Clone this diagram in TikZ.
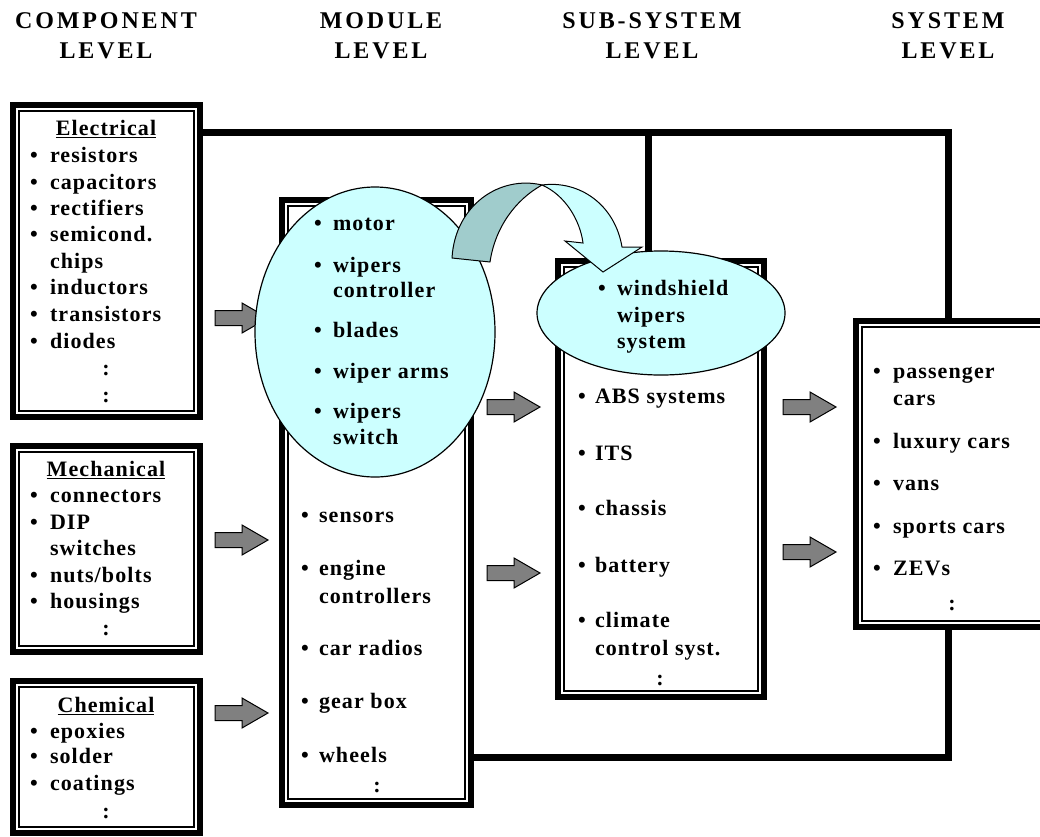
\documentclass[tikz,border=0pt]{standalone}
\usepackage{fontspec}
\setmainfont{Liberation Serif}[LetterSpace=5]
\newfontfamily\headfont{Liberation Serif}[LetterSpace=12]
\usetikzlibrary{shapes.geometric}

\definecolor{paleCyan}{HTML}{CCFFFF}
\definecolor{ribbonTeal}{HTML}{A0CCCC}
\definecolor{arrowGray}{HTML}{808080}

\pgfdeclarelayer{linklayer}
\pgfsetlayers{linklayer,main}

% frame with a heavy outer rule and a thin inner rule
\newcommand\levelframe[5]{%
  \node[inner sep=0pt, outer sep=0pt, minimum width={#4-#2}, minimum height={#5-#3}] (#1) at ({(#2+#4)/2},{(#3+#5)/2}) {};
  \draw[line width=6pt, fill=white] (#2+3,#3+3) rectangle (#4-3,#5-3);
  \draw[line width=1.2pt] (#2+9,#3+9) rectangle (#4-9,#5-9);
}
% bulleted list entry: name, bullet x, text x, y, text
\newcommand\itm[5]{%
  \node[dotmark] (#1b) at (#2,#4) {•};
  \node[txt] (#1) at (#3,#4) {#5};
}
% continuation line of an entry
\newcommand\cont[4]{\node[txt] (#1) at (#2,#3) {#4};}
% vertical ellipsis mark
\newcommand\colonmark[3]{\node[dotmark] (#1) at (#2,#3) {:};}

\begin{document}
\begin{tikzpicture}[x=1pt,y=-1pt,
  body/.style={inner sep=0pt, outer sep=0pt, text height=16pt, text depth=5pt,
    font=\fontsize{22}{26}\selectfont\bfseries},
  txt/.style={body, anchor=west},
  dotmark/.style={body, anchor=center},
  ttl/.style={inner sep=0pt, anchor=base, font=\headfont\fontsize{24}{28}\selectfont\bfseries},
  link/.style={line width=7pt, line join=miter},
  bubble/.style={ellipse, draw, line width=1.2pt, fill=paleCyan, inner sep=0pt},
  blockarrow/.pic={\draw[line width=1pt, fill=arrowGray, line join=miter]
    (0,-7.5) -- (27,-7.5) -- (27,-15) -- (53,0) -- (27,15) -- (27,7.5) -- (0,7.5) -- cycle;}
]
\useasboundingbox (0,0) rectangle (1040,836);
\clip (0,0) rectangle (1040,836);

% level headings
\node[ttl] (h1a) at (106,28) {COMPONENT};
\node[ttl] (h1b) at (106,58) {LEVEL};
\node[ttl] (h2a) at (381,28) {MODULE};
\node[ttl] (h2b) at (381,58) {LEVEL};
\node[ttl] (h3a) at (652,28) {SUB-SYSTEM};
\node[ttl] (h3b) at (652,58) {LEVEL};
\node[ttl] (h4a) at (948,28) {SYSTEM};
\node[ttl] (h4b) at (948,58) {LEVEL};

% bends of the heavy links
\coordinate (topRun) at (948,132);
\coordinate (subTap) at (648,132);
\coordinate (botRun) at (948,757);

% frames
\levelframe{elec}{10}{102}{203}{420}
\levelframe{mech}{10}{443}{203}{655}
\levelframe{chem}{10}{678}{203}{836}
\levelframe{mod}{279}{197}{474}{808}
\levelframe{sub}{555}{258}{767}{700}
\levelframe{sys}{853}{318}{1050}{630}

% heavy links between levels, kept under the frames
\begin{pgfonlayer}{linklayer}
\draw[link] ([xshift=-4pt,yshift=-30pt]elec.north east) -- (topRun) -- ([yshift=-3pt]topRun |- sys.north);
\draw[link] (subTap) -- ([yshift=-3pt]subTap |- sub.north);
\draw[link] ([xshift=-3pt]mod.east |- botRun) -- (botRun) -- ([yshift=3pt]botRun |- sys.south);
\end{pgfonlayer}

% component level
\node[dotmark] (elecHead) at (106,130) {\underline{Electrical}};
\itm{e1}{34}{50}{157}{resistors}
\itm{e2}{34}{50}{184}{capacitors}
\itm{e3}{34}{50}{210}{rectifiers}
\itm{e4}{34}{50}{236}{semicond.}
\cont{e4c}{50}{263}{chips}
\itm{e5}{34}{50}{289}{inductors}
\itm{e6}{34}{50}{316}{transistors}
\itm{e7}{34}{50}{343}{diodes}
\colonmark{e8}{106}{370}
\colonmark{e9}{106}{397}

\node[dotmark] (mechHead) at (106,471) {\underline{Mechanical}};
\itm{m1}{34}{50}{497}{connectors}
\itm{m2}{34}{50}{524}{DIP}
\cont{m2c}{50}{550}{switches}
\itm{m3}{34}{50}{577}{nuts/bolts}
\itm{m4}{34}{50}{603}{housings}
\colonmark{m5}{106}{630}

\node[dotmark] (chemHead) at (106,707) {\underline{Chemical}};
\itm{c1}{34}{50}{733}{epoxies}
\itm{c2}{34}{50}{758}{solder}
\itm{c3}{34}{50}{785}{coatings}
\colonmark{c4}{106}{813}

% module level
\itm{d1}{305}{319}{517}{sensors}
\itm{d2}{305}{319}{570}{engine}
\cont{d2c}{319}{598}{controllers}
\itm{d3}{305}{319}{650}{car radios}
\itm{d4}{305}{319}{703}{gear box}
\itm{d5}{305}{319}{757}{wheels}
\colonmark{d6}{377}{787}

% sub-system level
\itm{s1}{582}{595}{398}{ABS systems}
\itm{s2}{582}{595}{455}{ITS}
\itm{s3}{582}{595}{510}{chassis}
\itm{s4}{582}{595}{567}{battery}
\itm{s5}{582}{595}{622}{climate}
\cont{s5c}{595}{650}{control syst.}
\colonmark{s6}{660}{680}

% system level
\itm{y1}{877}{893}{373}{passenger}
\cont{y1c}{893}{400}{cars}
\itm{y2}{877}{893}{443}{luxury cars}
\itm{y3}{877}{893}{485}{vans}
\itm{y4}{877}{893}{528}{sports cars}
\itm{y5}{877}{893}{570}{ZEVs}
\colonmark{y6}{952}{605}

% flow arrows between levels
\pic (fa1) at (215,318) {blockarrow};
\pic (fa2) at (215,540) {blockarrow};
\pic (fa3) at (215,713) {blockarrow};
\pic (fa4) at (487,407) {blockarrow};
\pic (fa5) at (487,573) {blockarrow};
\pic (fa6) at (783,407) {blockarrow};
\pic (fa7) at (783,552) {blockarrow};

% wiper example: modules grouped into a sub-system
\node[bubble, minimum width=240pt, minimum height=290pt] (modBubble) at (375,332) {};
\itm{w1}{318}{333}{225}{motor}
\itm{w2}{318}{333}{267}{wipers}
\cont{w2c}{333}{292}{controller}
\itm{w3}{318}{333}{332}{blades}
\itm{w4}{318}{333}{373}{wiper arms}
\itm{w5}{318}{333}{413}{wipers}
\cont{w5c}{333}{439}{switch}

\node[bubble, minimum width=248pt, minimum height=124pt] (subBubble) at (661,313) {};
\itm{ws}{602}{617}{290}{windshield}
\cont{ws2}{617}{317}{wipers}
\cont{ws3}{617}{343}{system}

% curved ribbon arrow from the module group to the sub-system
\draw[line width=1pt, fill=ribbonTeal, line join=round]
  (452,258) -- (490,262) .. controls (495,228) and (515,200) .. (542,185)
  .. controls (500,175) and (455,205) .. (452,258) -- cycle;
\draw[line width=1pt, fill=paleCyan, line join=miter]
  (542,185) .. controls (580,180) and (615,205) .. (622,247)
  -- (642,247) -- (603,272) -- (565,241) -- (583,243)
  .. controls (580,220) and (565,195) .. (542,185) -- cycle;
\end{tikzpicture}
\end{document}
